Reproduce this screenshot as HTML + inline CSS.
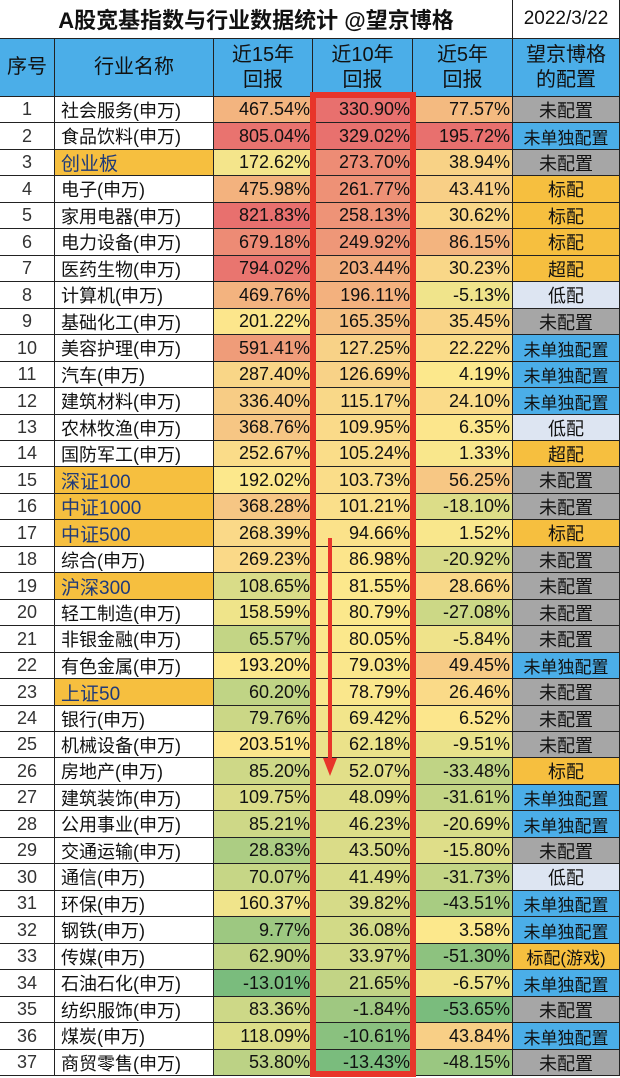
<!DOCTYPE html>
<html><head><meta charset="utf-8">
<style>
body{margin:0;width:620px;height:1078px;overflow:hidden;background:#fff;font-family:"Liberation Sans","Noto Sans CJK SC",sans-serif;}
#t{position:absolute;left:0;top:0;width:620px;height:1078px;}
.c{position:absolute;box-sizing:border-box;border-right:1px solid #222;border-bottom:1px solid #222;display:flex;align-items:center;white-space:nowrap;overflow:hidden;color:#111;}
.num{justify-content:flex-end;padding-right:2px;font-size:18px;font-family:"Liberation Sans Narrow","Liberation Sans",sans-serif;}
.ctr{justify-content:center;}
</style></head><body>
<div id="t"></div>
<svg width="620" height="1078" style="position:absolute;left:0;top:0">
<rect x="313" y="95" width="100" height="979" fill="none" stroke="#e8352a" stroke-width="6"/>
<line x1="330" y1="538" x2="330" y2="760" stroke="#e8352a" stroke-width="4"/>
<polygon points="323,758 337,758 330,776" fill="#e8352a"/>
</svg>
<script>
const names=["社会服务(申万)","食品饮料(申万)","创业板","电子(申万)","家用电器(申万)","电力设备(申万)","医药生物(申万)","计算机(申万)","基础化工(申万)","美容护理(申万)","汽车(申万)","建筑材料(申万)","农林牧渔(申万)","国防军工(申万)","深证100","中证1000","中证500","综合(申万)","沪深300","轻工制造(申万)","非银金融(申万)","有色金属(申万)","上证50","银行(申万)","机械设备(申万)","房地产(申万)","建筑装饰(申万)","公用事业(申万)","交通运输(申万)","通信(申万)","环保(申万)","钢铁(申万)","传媒(申万)","石油石化(申万)","纺织服饰(申万)","煤炭(申万)","商贸零售(申万)"];
const r15=[467.54,805.04,172.62,475.98,821.83,679.18,794.02,469.76,201.22,591.41,287.40,336.40,368.76,252.67,192.02,368.28,268.39,269.23,108.65,158.59,65.57,193.20,60.20,79.76,203.51,85.20,109.75,85.21,28.83,70.07,160.37,9.77,62.90,-13.01,83.36,118.09,53.80];
const r10=[330.90,329.02,273.70,261.77,258.13,249.92,203.44,196.11,165.35,127.25,126.69,115.17,109.95,105.24,103.73,101.21,94.66,86.98,81.55,80.79,80.05,79.03,78.79,69.42,62.18,52.07,48.09,46.23,43.50,41.49,39.82,36.08,33.97,21.65,-1.84,-10.61,-13.43];
const r5=[77.57,195.72,38.94,43.41,30.62,86.15,30.23,-5.13,35.45,22.22,4.19,24.10,6.35,1.33,56.25,-18.10,1.52,-20.92,28.66,-27.08,-5.84,49.45,26.46,6.52,-9.51,-33.48,-31.61,-20.69,-15.80,-31.73,-43.51,3.58,-51.30,-6.57,-53.65,43.84,-48.15];
const conf=["未配置","未单独配置","未配置","标配","标配","标配","超配","低配","未配置","未单独配置","未单独配置","未单独配置","低配","超配","未配置","未配置","标配","未配置","未配置","未配置","未配置","未单独配置","未配置","未配置","未配置","标配","未单独配置","未单独配置","未配置","低配","未单独配置","未单独配置","标配(游戏)","未单独配置","未配置","未单独配置","未配置"];
const indexRows=["创业板","深证100","中证1000","中证500","沪深300","上证50"];
const T=document.getElementById('t');
const X=[0,55,214,313,413,513,620];
const G=[122,188,125],Y=[252,232,140],R=[232,112,110];
function mix(a,b,t){t=Math.max(0,Math.min(1,t));return 'rgb('+a.map((v,i)=>Math.round(v+(b[i]-v)*t)).join(',')+')';}
function scale(arr){const s=[...arr].sort((a,b)=>a-b);const mn=s[0],mx=s[s.length-1],md=s[Math.floor(s.length/2)];
 return v=>v<=md?mix(G,Y,Math.pow((v-mn)/(md-mn),0.6)):mix(Y,R,(v-md)/(mx-md));}
const s15=scale(r15),s10=scale(r10),s5=scale(r5);
const confColor={"未配置":"#a6a6a6","未单独配置":"#4baee8","标配":"#f6bf3f","超配":"#f6bf3f","低配":"#dde5f2","标配(游戏)":"#f6bf3f"};
function cell(x0,x1,y,h,txt,cls,bg,name,extra){const d=document.createElement('div');d.className='c '+cls;
 d.style.cssText=`left:${x0}px;top:${y}px;width:${x1-x0}px;height:${h}px;background:${bg};`+(extra||'');d.textContent=txt;
 
 
 T.appendChild(d);return d;}
cell(0,513,0,39,"A股宽基指数与行业数据统计  @望京博格","ctr","#fff","title","font-size:22px;font-weight:bold;");
cell(513,620,0,39,"2022/3/22","ctr","#fff","date","font-size:19px;");
const H=["序号","行业名称","近15年<br>回报","近10年<br>回报","近5年<br>回报","望京博格<br>的配置"];
H.forEach((h,i)=>{const d=cell(X[i],X[i+1],39,58,"","ctr","#4baee8","header-"+i,"font-size:20px;text-align:center;line-height:25px;");d.innerHTML=h;});
const top0=97,rh=(1076-97)/37;
names.forEach((n,i)=>{const y=Math.round(top0+i*rh),h=Math.round(top0+(i+1)*rh)-y;
 const isIdx=indexRows.includes(n);
 cell(X[0],X[1],y,h,String(i+1),"ctr","#fff","row-number","font-size:18px;color:#333;");
 cell(X[1],X[2],y,h,n,"",isIdx?"#f6bf3f":"#fff","industry-name","padding-left:6px;font-size:"+(isIdx?19:18)+"px;"+(isIdx?"color:#1f3a7a;":""));
 cell(X[2],X[3],y,h,r15[i].toFixed(2)+"%","num",s15(r15[i]),"return-15y");
 cell(X[3],X[4],y,h,r10[i].toFixed(2)+"%","num",s10(r10[i]),"return-10y");
 cell(X[4],X[5],y,h,r5[i].toFixed(2)+"%","num",s5(r5[i]),"return-5y");
 cell(X[5],X[6],y,h,conf[i],"ctr",confColor[conf[i]],"allocation","font-size:"+(conf[i].length>4?17:18)+"px;");
});
</script>
</body></html>
